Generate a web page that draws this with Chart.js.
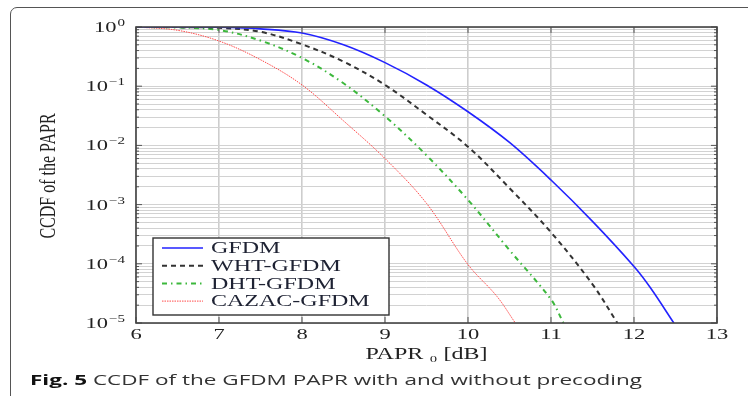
<!DOCTYPE html>
<html>
<head>
<meta charset="utf-8">
<script src="https://cdn.jsdelivr.net/npm/chart.js@4.4.1/dist/chart.umd.min.js"></script>
<style>
  html, body { margin: 0; padding: 0; background: #fff; }
  body { width: 748px; height: 396px; position: relative; overflow: hidden; }
  #frame {
    position: absolute; left: 10px; top: 7px; width: 800px; height: 460px;
    border: 1.5px solid #555; border-radius: 7px; box-sizing: border-box;
  }
  #chart { position: absolute; left: 0; top: 0; }
  #caption {
    position: absolute; left: 30px; top: 369px;
    font-family: "Open Sans", sans-serif; font-size: 15px; color: #333; white-space: nowrap;
    transform: scaleX(1.5); transform-origin: left top;
  }
  #caption b { color: #111; }
</style>
</head>
<body>
<div id="frame"></div>
<canvas id="chart" width="748" height="396"></canvas>
<div id="caption"><b>Fig. 5</b> CCDF of the GFDM PAPR with and without precoding</div>

<script>
// values
const seriesNames = ['GFDM', 'WHT-GFDM', 'DHT-GFDM', 'CAZAC-GFDM'];

const gfdmX = [6, 6.5, 7, 7.5, 8, 8.5, 9, 9.5, 10, 10.5, 11, 11.5, 12, 12.2, 12.48];
const gfdmY = [1, 0.998, 0.99, 0.93, 0.79, 0.5, 0.25, 0.105, 0.037, 0.0112, 0.0026, 5.2e-4, 9e-5, 3.9e-5, 1e-5];

const whtX = [6, 6.5, 7, 7.5, 8, 8.5, 9, 9.5, 10, 10.5, 11, 11.5, 11.8];
const whtY = [1, 0.995, 0.97, 0.83, 0.51, 0.26, 0.105, 0.033, 0.0095, 0.0019, 3.4e-4, 4.5e-5, 1e-5];

const dhtX = [6, 6.5, 7, 7.5, 8, 8.5, 9, 9.5, 10, 10.5, 11, 11.15];
const dhtY = [1, 0.98, 0.89, 0.59, 0.3, 0.112, 0.031, 0.0068, 1.2e-3, 1.7e-4, 2.5e-5, 1e-5];

const cazacX = [6, 6.5, 7, 7.5, 8, 8.5, 9, 9.5, 10, 10.35, 10.57];
const cazacY = [1, 0.88, 0.58, 0.28, 0.105, 0.026, 6e-3, 1.05e-3, 9.7e-5, 2.8e-5, 1e-5];

const xTicks = [6, 7, 8, 9, 10, 11, 12, 13];
const yDecades = [0, -1, -2, -3, -4, -5];

const serif = "'Liberation Serif', 'DejaVu Serif', serif";
const STRETCH = 1.5; // the figure is stretched sideways

function pts(xs, ys) {
    return xs.map((x, i) => ({ x: x, y: ys[i] }));
}

// log minor ticks 1..9 in each decade
function logTicks() {
    const out = [];
    for (let e = -5; e <= 0; e++) {
        for (let m = 1; m <= 9; m++) {
            const v = m * Math.pow(10, e);
            if (v <= 1.0000001) out.push({ value: v });
        }
    }
    return out;
}

// text drawn wider than tall, like the reference
function wideText(ctx, txt, x, y, align, font) {
    ctx.save();
    ctx.font = font;
    ctx.translate(x, y);
    ctx.scale(STRETCH, 1);
    ctx.textAlign = align;
    ctx.fillText(txt, 0, 0);
    ctx.restore();
}

const framePlugin = {
    id: 'framePlugin',
    afterDatasetsDraw(chart) {
        const ctx = chart.ctx;
        const a = chart.chartArea;
        const xs = chart.scales.x, ys = chart.scales.y;
        ctx.save();

        // small inward tick marks on all four sides
        ctx.strokeStyle = '#555';
        ctx.lineWidth = 1;
        logTicks().forEach(t => {
            const y = ys.getPixelForValue(t.value);
            const len = Math.abs(Math.log10(t.value) - Math.round(Math.log10(t.value))) < 1e-6 ? 6 : 3;
            ctx.beginPath();
            ctx.moveTo(a.left, y); ctx.lineTo(a.left + len, y);
            ctx.moveTo(a.right, y); ctx.lineTo(a.right - len, y);
            ctx.stroke();
        });
        xTicks.forEach(v => {
            const x = xs.getPixelForValue(v);
            ctx.beginPath();
            ctx.moveTo(x, a.bottom); ctx.lineTo(x, a.bottom - 6);
            ctx.moveTo(x, a.top); ctx.lineTo(x, a.top + 6);
            ctx.stroke();
        });

        // axis box
        ctx.strokeStyle = '#444';
        ctx.lineWidth = 1.6;
        ctx.strokeRect(a.left, a.top, a.right - a.left, a.bottom - a.top);

        ctx.fillStyle = '#222';
        ctx.textBaseline = 'alphabetic';

        // y tick labels 10^k
        yDecades.forEach(e => {
            const y = ys.getPixelForValue(Math.pow(10, e));
            const expTxt = e === 0 ? '0' : '\u2212' + Math.abs(e);
            ctx.font = '10px ' + serif;
            const ew = ctx.measureText(expTxt).width * STRETCH;
            wideText(ctx, expTxt, 125, y - 1, 'right', '10px ' + serif);
            wideText(ctx, '10', 125 - ew - 1, y + 5, 'right', '15px ' + serif);
        });

        // x tick labels
        xTicks.forEach(v => {
            wideText(ctx, String(v), xs.getPixelForValue(v), 339, 'center', '15px ' + serif);
        });

        // axis titles
        ctx.textBaseline = 'middle';
        wideText(ctx, 'PAPR \u2080 [dB]', (a.left + a.right) / 2, 355, 'center', '16px ' + serif);
        ctx.save();
        ctx.translate(49, 176);
        ctx.scale(STRETCH, 1);
        ctx.rotate(-Math.PI / 2);
        ctx.font = '16px ' + serif;
        ctx.textAlign = 'center';
        ctx.fillText('CCDF of the PAPR', 0, 0);
        ctx.restore();

        // legend box
        const lx = 153, ly = 238, lw = 236, lh = 77;
        ctx.fillStyle = '#fff';
        ctx.fillRect(lx, ly, lw, lh);
        ctx.strokeStyle = '#333';
        ctx.lineWidth = 1.4;
        ctx.strokeRect(lx, ly, lw, lh);
        chart.data.datasets.forEach((ds, i) => {
            const y = ly + 10 + i * 17.7;
            ctx.beginPath();
            ctx.strokeStyle = ds.borderColor;
            ctx.lineWidth = ds.borderWidth;
            ctx.setLineDash(ds.borderDash || []);
            ctx.moveTo(162, y);
            ctx.lineTo(203, y);
            ctx.stroke();
            ctx.setLineDash([]);
            ctx.fillStyle = '#1e2233';
            ctx.textBaseline = 'middle';
            wideText(ctx, ds.label, 211, y + 1, 'left', '16px ' + serif);
        });
        ctx.restore();
    }
};

const lineOpts = { pointRadius: 0, fill: false, tension: 0.35 };

new Chart(document.getElementById('chart'), {
    type: 'line',
    data: {
        datasets: [
            { label: seriesNames[0], data: pts(gfdmX, gfdmY), borderColor: '#2222ff', borderWidth: 1.6, ...lineOpts },
            { label: seriesNames[1], data: pts(whtX, whtY), borderColor: '#333333', borderWidth: 2, borderDash: [5, 4], ...lineOpts },
            { label: seriesNames[2], data: pts(dhtX, dhtY), borderColor: '#3cb83c', borderWidth: 2, borderDash: [5, 4, 1.5, 4], ...lineOpts },
            { label: seriesNames[3], data: pts(cazacX, cazacY), borderColor: '#ff4a4a', borderWidth: 1, borderDash: [1.5, 1], ...lineOpts }
        ]
    },
    options: {
        responsive: false,
        animation: false,
        layout: { padding: { top: 27, right: 31, left: 0, bottom: 0 } },
        plugins: { legend: { display: false }, tooltip: { enabled: false } },
        scales: {
            x: {
                type: 'linear', min: 6, max: 13,
                afterBuildTicks: scale => { scale.ticks = xTicks.map(v => ({ value: v })); },
                afterFit: scale => { scale.height = 73; },
                ticks: { maxRotation: 0, autoSkip: false, callback: () => '', font: { size: 1 } },
                grid: { color: '#cdcdcd', lineWidth: 1.6, drawTicks: false },
                border: { display: false }
            },
            y: {
                type: 'logarithmic', min: 1e-5, max: 1,
                afterBuildTicks: scale => { scale.ticks = logTicks(); },
                afterFit: scale => { scale.width = 136; },
                ticks: { autoSkip: false, callback: () => '', font: { size: 1 } },
                grid: { color: '#d2d2d2', lineWidth: 1, drawTicks: false },
                border: { display: false }
            }
        }
    },
    plugins: [framePlugin]
});
</script>
</body>
</html>
